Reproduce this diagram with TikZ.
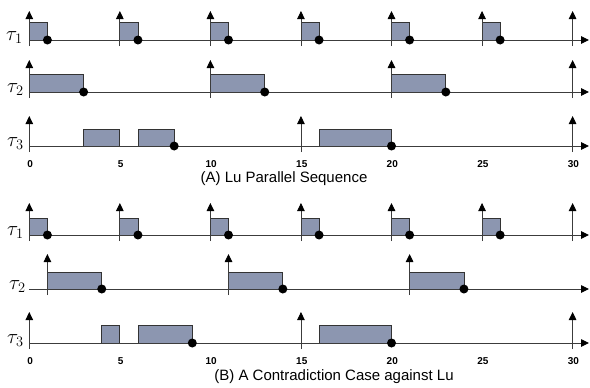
\documentclass[tikz,border=0pt]{standalone}
\usepackage{fontspec}
\setmainfont{Liberation Sans}
\usetikzlibrary{arrows.meta}
\definecolor{axcol}{RGB}{60,60,60}
\definecolor{jobfill}{RGB}{140,150,176}
\newcommand\myox{29.3}
\newcommand\mysc{18.11}
\newcommand\myaxis[1]{\draw[axisline,-{Triangle[length=8pt,width=7.5pt,black]}] (\myox,#1) -- (589,#1);}
\newcommand\myrel[3]{\draw[axisline,-{Triangle[length=8pt,width=7.5pt,black]}] ({\myox+\mysc*(#1)},{#2+6}) -- ({\myox+\mysc*(#1)},#3);}
\newcommand\myjob[4]{\draw[jobbox] ({\myox+\mysc*(#1)},#3) rectangle ({\myox+\mysc*(#2)},#4);}
\newcommand\mydone[2]{\fill[black] ({\myox+\mysc*(#1)},#2) circle (4.5pt);}
\begin{document}
\begin{tikzpicture}[x=1pt,y=-1pt,
  axisline/.style={draw=axcol,line width=0.9pt},
  jobbox/.style={draw=black!80,line width=0.8pt,fill=jobfill},
  tlabel/.style={anchor=base west,inner sep=0pt,font=\fontsize{21}{21}\selectfont},
  ticklab/.style={inner sep=0pt,font=\fontsize{10}{10}\selectfont\bfseries},
  caption/.style={inner sep=0pt,font=\fontsize{15}{15}\selectfont}]
\useasboundingbox (0,0) rectangle (590,388);
% ================= Panel A =================
% tau1
\foreach \k in {0,...,5}{\myjob{5*\k}{5*\k+1}{40}{22}}
\myaxis{40}
\foreach \k in {0,...,6}{\myrel{5*\k}{40}{11}}
\foreach \k in {0,...,5}{\mydone{5*\k+1}{40}}
\node[tlabel] (a1) at (6,40) {$\tau_1$};
% tau2
\foreach \k in {0,1,2}{\myjob{10*\k}{10*\k+3}{92}{74}}
\myaxis{92}
\foreach \k in {0,...,3}{\myrel{10*\k}{92}{60}}
\foreach \k in {0,1,2}{\mydone{10*\k+3}{92}}
\node[tlabel] (a2) at (7,92) {$\tau_2$};
% tau3
\myjob{3}{5}{146}{129}
\myjob{6}{8}{146}{129}
\myjob{16}{20}{146}{129}
\myaxis{146}
\foreach \k in {0,1,2}{\myrel{15*\k}{146}{116}}
\mydone{8}{146}
\mydone{20}{146}
\node[tlabel] (a3) at (7,146) {$\tau_3$};
\foreach \t in {0,5,...,30}{\node[ticklab] (ta\t) at ({\myox+\mysc*\t+0.8},164) {\t};}
\node[caption] (capA) at (284,179) {(A) Lu Parallel Sequence};
% ================= Panel B =================
% tau1
\foreach \k in {0,...,5}{\myjob{5*\k}{5*\k+1}{235}{218}}
\myaxis{235}
\foreach \k in {0,...,6}{\myrel{5*\k}{235}{203}}
\foreach \k in {0,...,5}{\mydone{5*\k+1}{235}}
\node[tlabel] (b1) at (7,235) {$\tau_1$};
% tau2
\foreach \k in {0,1,2}{\myjob{10*\k+1}{10*\k+4}{289}{272}}
\myaxis{289}
\foreach \k in {0,1,2}{\myrel{10*\k+1}{289}{254}}
\foreach \k in {0,1,2}{\mydone{10*\k+4}{289}}
\node[tlabel] (b2) at (9,289) {$\tau_2$};
% tau3
\myjob{4}{5}{343}{325}
\myjob{6}{9}{343}{325}
\myjob{16}{20}{343}{325}
\myaxis{343}
\foreach \k in {0,1,2}{\myrel{15*\k}{343}{312}}
\mydone{9}{343}
\mydone{20}{343}
\node[tlabel] (b3) at (7,343) {$\tau_3$};
\foreach \t in {0,5,...,30}{\node[ticklab] (tb\t) at ({\myox+\mysc*\t+0.8},361.5) {\t};}
\node[caption] (capB) at (334,377) {(B) A Contradiction Case against Lu};
\end{tikzpicture}
\end{document}
